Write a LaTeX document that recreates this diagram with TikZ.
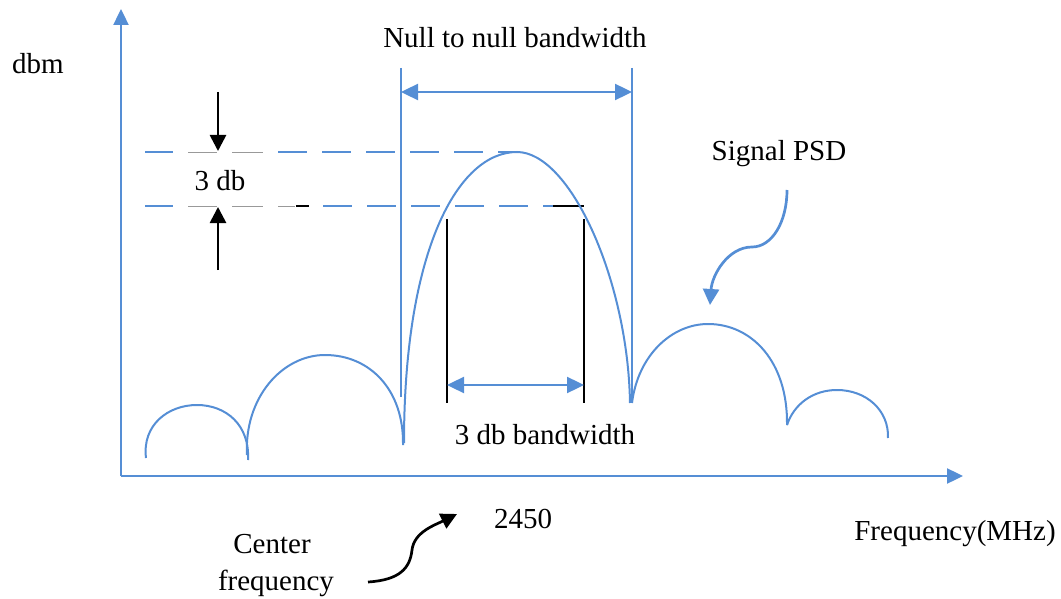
\documentclass[tikz,border=0pt]{standalone}
\usepackage{fontspec}
\setmainfont{Liberation Serif}
\usetikzlibrary{arrows.meta}
\definecolor{psdblue}{RGB}{85,142,213}
\begin{document}
\begin{tikzpicture}[x=1pt,y=-1pt,
  axisline/.style={draw=psdblue,line width=2.4pt},
  curveline/.style={draw=psdblue,line width=2pt},
  bluetip/.style={-{Triangle[length=16pt,width=16pt]}},
  bluetwo/.style={{Triangle[length=17pt,width=16pt]}-{Triangle[length=17pt,width=16pt]}},
  blacktip/.style={-{Triangle[length=16pt,width=16pt]}},
  dashblue/.style={draw=psdblue,line width=1.7pt,dash pattern=on 29pt off 15pt},
  graythin/.style={draw=gray!80,line width=0.9pt},
  lbl/.style={font=\fontsize{29}{37}\selectfont,inner sep=0pt,anchor=base}]
\useasboundingbox (0,0) rectangle (1061,599);

% axes
\coordinate (O) at (121,476);
\coordinate (Ytop) at (121,9);
\coordinate (Xend) at (963,476);
\draw[axisline,-{Triangle[length=16pt,width=15pt]}] (O) -- (Ytop);
\draw[axisline,-{Triangle[length=16pt,width=15pt]}] (O) -- (Xend);

% null-to-null lines
\coordinate (NL1) at (401,68); \coordinate (NL2) at (401,397);
\coordinate (NR1) at (632,68); \coordinate (NR2) at (632,403);
\draw[curveline] (NL1) -- (NL2);
\draw[curveline] (NR1) -- (NR2);
\coordinate (NA1) at (401,92); \coordinate (NA2) at (632,92);
\draw[axisline,bluetwo] (NA1) -- (NA2);

% dashed level lines (upper)
\draw[draw=psdblue,line width=1.7pt] (145,152) -- (173,152);
\draw[graythin] (188,152) -- (217,152);
\draw[graythin] (232,152) -- (263,152);
\draw[dashblue] (278,152) -- (515,152);
% lower
\draw[draw=psdblue,line width=1.7pt] (145,206) -- (173,206);
\draw[graythin] (188,206) -- (217,206);
\draw[graythin] (232,206) -- (263,206);
\draw[graythin] (278,206) -- (295,206);
\draw[black,line width=1.7pt] (296,206) -- (309,206);
\draw[dashblue] (323,206) -- (553,206);
\draw[black,line width=1.7pt] (553,206) -- (584,206);

% 3 db arrows
\coordinate (T1) at (218,92); \coordinate (T2) at (218,151);
\coordinate (B1) at (218,270); \coordinate (B2) at (218,207);
\draw[black,line width=2.7pt,blacktip] (T1) -- (T2);
\draw[black,line width=2.7pt,blacktip] (B1) -- (B2);

% 3 db bandwidth markers
\coordinate (L1) at (447,219); \coordinate (L2) at (447,403);
\coordinate (R1) at (584,219); \coordinate (R2) at (584,403);
\draw[black,line width=2.2pt] (L1) -- (L2);
\draw[black,line width=2.2pt] (R1) -- (R2);
\coordinate (BA1) at (447,385); \coordinate (BA2) at (584,385);
\draw[axisline,bluetwo] (BA1) -- (BA2);

% main lobe
\draw[curveline] (404,443) .. controls (404,250) and (458,152) .. (517,152)
  .. controls (570,152) and (628,280) .. (630,403);
% left side lobes
\draw[curveline] (146,458) .. controls (142,425) and (168,405) .. (197,405)
  .. controls (226,405) and (250,425) .. (248,460);
\draw[curveline] (247,455) .. controls (244,398) and (282,355) .. (325,355)
  .. controls (370,355) and (404,390) .. (403,445);
% right side lobes
\draw[curveline] (632,403) .. controls (638,355) and (672,324) .. (708,324)
  .. controls (752,324) and (788,362) .. (787,425);
\draw[curveline] (787,425) .. controls (794,404) and (813,390) .. (837,390)
  .. controls (866,390) and (889,410) .. (888,438);

% signal psd pointer
\coordinate (S1) at (787,190); \coordinate (S2) at (710,305);
\draw[draw=psdblue,line width=2.7pt,bluetip] (S1) .. controls (787,222) and (772,247) .. (752,247)
  .. controls (728,247) and (712,275) .. (S2);

% center frequency pointer
\coordinate (C1) at (368,582); \coordinate (C2) at (457,514);
\draw[black,line width=2.7pt,blacktip] (C1) .. controls (400,580) and (410,568) .. (412,550)
  .. controls (414,532) and (435,525) .. (C2);

% labels
\node[lbl] (dbm) at (38,74) {dbm};
\node[lbl] (nulltxt) at (515,48) {Null to null bandwidth};
\node[lbl] (threedb) at (220,191) {3 db};
\node[lbl] (psd) at (779,161) {Signal PSD};
\node[lbl] (bwtxt) at (545,444) {3 db bandwidth};
\node[lbl] (freq) at (523,528) {2450};
\node[lbl] (fmhz) at (955,540) {Frequency(MHz)};
\node[lbl] (cen) at (272,553) {Center};
\node[lbl] (cfreq) at (276,590) {frequency};
\end{tikzpicture}
\end{document}
